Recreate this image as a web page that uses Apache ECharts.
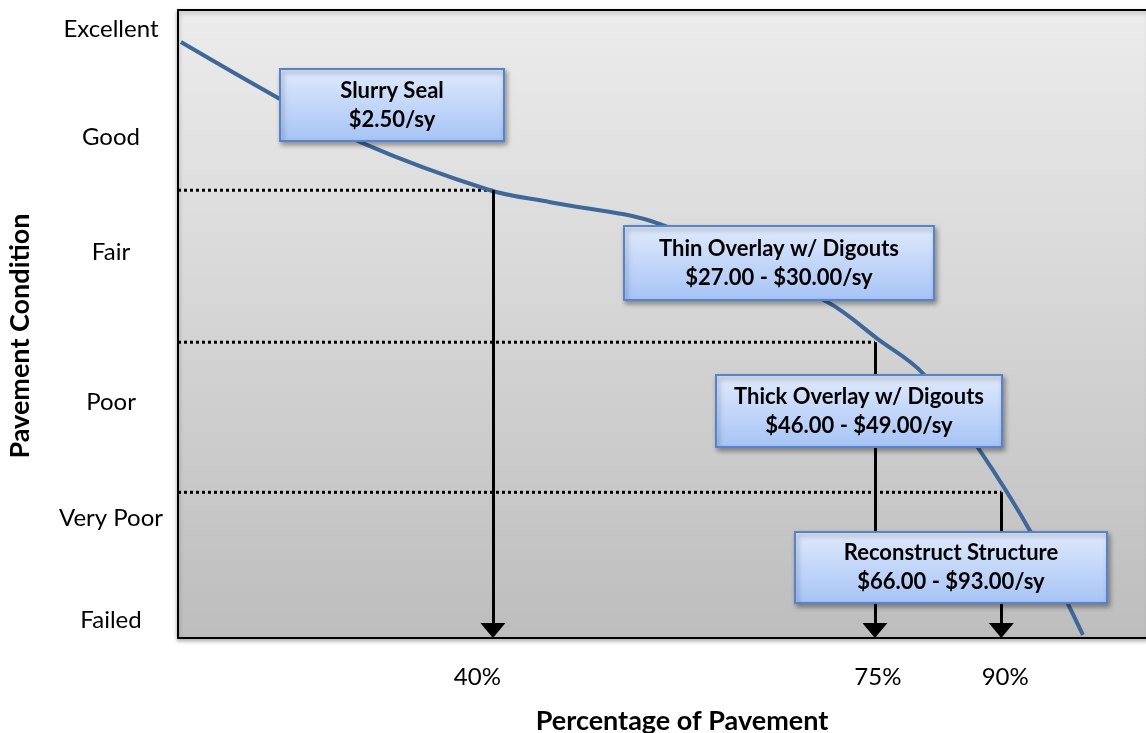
<!DOCTYPE html>
<html>
<head>
<meta charset="utf-8">
<script src="https://cdn.jsdelivr.net/npm/echarts@6/dist/echarts.min.js"></script>
<style>
  html, body { margin: 0; padding: 0; background: #fff; }
  #chart { width: 1146px; height: 733px; }
</style>
</head>
<body>
<div id="chart"></div>
<script>
// deterioration curve, x = position along pavement (0-100), y = condition (0-100)
var curveX = [0.3, 10.3, 19.0, 32.1, 38.3, 49.6, 66.8, 72.0, 76.6, 82.3, 87.9, 93.1];
var curveY = [94.9, 86.0, 78.8, 71.3, 69.4, 65.9, 53.5, 47.6, 42.2, 30.3, 16.4, 0.5];

// treatment thresholds (dotted level + arrow down)
var arrowX = [32.4, 71.7, 84.7];
var levelY = [71.3, 47.1, 23.2];

// tick labels
var xTickPos = [30.8, 72.0, 85.1];
var xTickText = ['40%', '75%', '90%'];
var yTickPos = [97.0, 79.8, 61.5, 37.6, 19.1, 2.9];
var yTickText = ['Excellent', 'Good', 'Fair', 'Poor', 'Very Poor', 'Failed'];

// treatment boxes
var boxText = [
  ['Slurry Seal', '$2.50/sy'],
  ['Thin Overlay w/ Digouts', '$27.00 - $30.00/sy'],
  ['Thick Overlay w/ Digouts', '$46.00 - $49.00/sy'],
  ['Reconstruct Structure', '$66.00 - $93.00/sy']
];

var FONT = 'Lato, "Open Sans", sans-serif';

var myChart = echarts.init(document.getElementById('chart'));

function makeBox(x, y, w, h, lines){
  return {
    type: 'group',
    x: x,
    y: y,
    children: [
      {
        type: 'rect',
        z: 100,
        shape: { x: 0, y: 0, width: w, height: h },
        style: {
          fill: new echarts.graphic.LinearGradient(0, 0, 0, 1, [
            { offset: 0, color: '#e0eafc' },
            { offset: 1, color: '#a6c3f5' }
          ]),
          stroke: '#5585c8',
          lineWidth: 2,
          shadowBlur: 5,
          shadowColor: 'rgba(0,0,0,0.35)',
          shadowOffsetX: 2,
          shadowOffsetY: 3
        }
      },
      {
        type: 'text',
        z: 101,
        style: {
          text: lines.join('\n'),
          x: w / 2,
          y: h / 2,
          align: 'center',
          verticalAlign: 'middle',
          lineHeight: 29,
          fill: '#000',
          font: 'bold 22px ' + FONT
        }
      }
    ]
  };
}

var curveData = [];
for(var i=0;i<curveX.length;i++){
  curveData.push([curveX[i], curveY[i]]);
}

var series = [
  {
    type: 'line',
    data: curveData,
    smooth: 0.35,
    showSymbol: false,
    lineStyle: { color: '#3f6898', width: 4 },
    z: 3
  }
];

for(var i=0;i<arrowX.length;i++){
  // dotted level from left edge to arrow
  series.push({
    type: 'line',
    data: [[0, levelY[i]], [arrowX[i], levelY[i]]],
    showSymbol: false,
    lineStyle: { color: '#000', width: 3, type: [3, 3], cap: 'butt' },
    z: 2
  });
}

// vertical arrows
var arrowLines = [];
for(var i=0;i<arrowX.length;i++){
  arrowLines.push([
    { coord: [arrowX[i], levelY[i]], symbol: 'none' },
    { coord: [arrowX[i], 1.2], symbol: 'triangle', symbolSize: [25, 15] }
  ]);
}
series.push({
  type: 'line',
  data: [],
  markLine: {
    silent: true,
    animation: false,
    label: { show: false },
    lineStyle: { color: '#000', width: 3, type: 'solid' },
    itemStyle: { color: '#000' },
    data: arrowLines
  },
  z: 2
});

var option = {
  animation: false,
  grid: {
    left: 178,
    top: 10,
    right: -4,
    bottom: 95,
    outerBoundsMode: 'none',
    show: true,
    borderColor: '#000',
    borderWidth: 2,
    backgroundColor: new echarts.graphic.LinearGradient(0, 0, 0, 1, [
      { offset: 0, color: '#ececec' },
      { offset: 1, color: '#bdbdbd' }
    ]),
    shadowColor: 'rgba(0,0,0,0.3)',
    shadowBlur: 4,
    shadowOffsetY: 2
  },
  xAxis: {
    type: 'value',
    min: 0,
    max: 100,
    name: 'Percentage of Pavement',
    nameLocation: 'middle',
    nameGap: 70,
    nameTextStyle: {
      fontFamily: FONT,
      fontWeight: 'bold',
      fontSize: 27,
      color: '#000',
      padding: [0, 0, 0, 36]
    },
    axisLine: { show: false },
    axisTick: { show: false },
    splitLine: { show: false },
    axisLabel: {
      customValues: xTickPos,
      margin: 27,
      fontFamily: FONT,
      fontSize: 24,
      color: '#000',
      formatter: function(v){
        var idx = xTickPos.indexOf(v);
        return idx >= 0 ? xTickText[idx] : '';
      }
    }
  },
  yAxis: {
    type: 'value',
    min: 0,
    max: 100,
    name: 'Pavement Condition',
    nameLocation: 'middle',
    nameGap: 144,
    nameTextStyle: {
      fontFamily: FONT,
      fontWeight: 'bold',
      fontSize: 27,
      color: '#000',
      padding: [0, 24, 0, 0]
    },
    axisLine: { show: false },
    axisTick: { show: false },
    splitLine: { show: false },
    axisLabel: {
      customValues: yTickPos,
      margin: 67,
      align: 'center',
      fontFamily: FONT,
      fontSize: 24,
      color: '#000',
      formatter: function(v){
        var idx = yTickPos.indexOf(v);
        return idx >= 0 ? yTickText[idx] : '';
      }
    }
  },
  graphic: [
    makeBox(280, 69, 224, 72, boxText[0]),
    makeBox(624, 226, 310, 74, boxText[1]),
    makeBox(716, 375, 286, 72, boxText[2]),
    makeBox(795, 532, 312, 71, boxText[3])
  ],
  series: series
};

myChart.setOption(option);

window.addEventListener('resize', function(){
  myChart.resize();
});
</script>
</body>
</html>
